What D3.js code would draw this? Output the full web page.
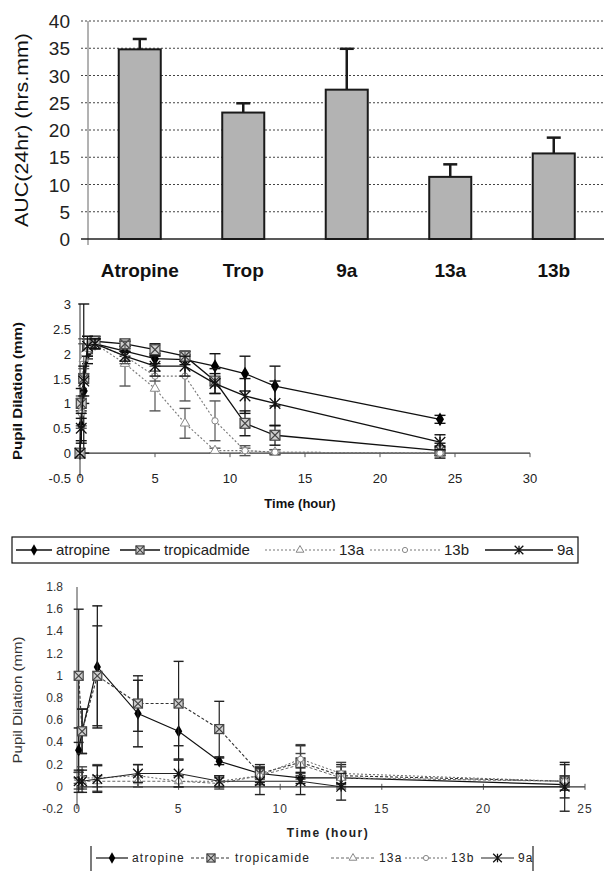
<!DOCTYPE html>
<html>
<head>
<meta charset="utf-8">
<script src="https://cdn.jsdelivr.net/npm/d3@7"></script>
<style>
  body { margin: 0; background: #fff; }
  text { font-family: Arial, "Liberation Sans", sans-serif; }
</style>
</head>
<body>
<div id="chart"></div>
<script>
// ---- bar chart data (AUC 24hr) ----
const barCategories = ["Atropine", "Trop", "9a", "13a", "13b"];
const barValues = [34.8, 23.2, 27.4, 11.4, 15.7];
const barErrors = [1.9, 1.7, 7.5, 2.3, 2.9];
const barTicks = [0, 5, 10, 15, 20, 25, 30, 35, 40];

// ---- middle chart data ----
const timesA = [0, 0.083, 0.25, 0.5, 1, 3, 5, 7, 9, 11, 13, 24];
const atropineA = [0, 0.55, 1.25, 2.0, 2.2, 2.05, 1.9, 1.88, 1.75, 1.6, 1.35, 0.68];
const atropineA_sd = [0, 0.3, 0.25, 0.2, 0.1, 0.1, 0.1, 0.1, 0.25, 0.35, 0.4, 0.08];
const tropA = [0, 1.0, 1.5, 2.1, 2.25, 2.2, 2.08, 1.95, 1.45, 0.6, 0.36, 0.05];
const tropA_sd = [0, 0.3, 1.5, 0.2, 0.1, 0.05, 0.12, 0.1, 0.25, 0.25, 0.2, 0.15];
const c13aA = [0, 0.85, 1.9, 2.1, 2.2, 1.8, 1.3, 0.6, 0.05, 0.05, 0.02, 0.0];
const c13aA_sd = [0, 0.3, 0.3, 0.2, 0.1, 0.45, 0.45, 0.3, 0.05, 0.05, 0.05, 0.05];
const c13bA = [0, 0.8, 2.0, 2.15, 2.2, 1.95, 1.55, 1.55, 0.65, 0.05, 0.02, 0.0];
const c13bA_sd = [0, 0.3, 0.3, 0.2, 0.1, 0.15, 0.1, 0.5, 0.4, 0.1, 0.05, 0.05];
const c9aA = [0, 0.5, 1.45, 2.15, 2.2, 1.95, 1.75, 1.75, 1.4, 1.15, 1.0, 0.22];
const c9aA_sd = [0, 0.3, 0.3, 0.2, 0.1, 0.1, 0.2, 0.2, 0.2, 0.35, 0.45, 0.15];
const ticksA_y = [-0.5, 0, 0.5, 1, 1.5, 2, 2.5, 3];
const ticksA_x = [0, 5, 10, 15, 20, 25, 30];

// ---- lower chart data ----
const timesB = [0.083, 0.25, 1, 3, 5, 7, 9, 11, 13, 24];
const atropineB = [0.33, 0.5, 1.08, 0.66, 0.5, 0.23, 0.12, 0.08, 0.08, 0.02];
const atropineB_sd = [0.2, 0.2, 0.55, 0.3, 0.25, 0.03, 0.05, 0.05, 0.05, 0.05];
const tropB = [1.0, 0.5, 1.0, 0.75, 0.75, 0.52, 0.12, 0.22, 0.1, 0.05];
const tropB_sd = [0.6, 0.2, 0.45, 0.25, 0.38, 0.25, 0.08, 0.15, 0.1, 0.15];
const c13aB = [0.08, 0.05, 0.05, 0.05, 0.05, 0.03, 0.1, 0.2, 0.08, 0.05];
const c13aB_sd = [0.05, 0.05, 0.05, 0.05, 0.05, 0.05, 0.08, 0.1, 0.1, 0.05];
const c13bB = [0.03, 0.08, 0.08, 0.1, 0.05, 0.05, 0.1, 0.25, 0.12, 0.05];
const c13bB_sd = [0.05, 0.1, 0.12, 0.1, 0.05, 0.05, 0.08, 0.13, 0.1, 0.05];
const c9aB = [0.05, 0.05, 0.07, 0.12, 0.12, 0.05, 0.05, 0.05, 0.0, 0.0];
const c9aB_sd = [0.1, 0.1, 0.12, 0.08, 0.12, 0.05, 0.12, 0.12, 0.12, 0.22];
const ticksB_y = [-0.2, 0, 0.2, 0.4, 0.6, 0.8, 1, 1.2, 1.4, 1.6, 1.8];
const ticksB_x = [0, 5, 10, 15, 20, 25];

const fmt = v => String(+v.toFixed(1));

const svg = d3.select('#chart').append('svg').attr('width', 604).attr('height', 875);

// ================= bar chart =================
{
    const x = d3.scaleBand().domain(barCategories).range([88, 605.5]).paddingInner(0.594).paddingOuter(0.297);
    const y = d3.scaleLinear().domain([0, 40]).range([239, 21]);
    const g = svg.append('g');

    g.selectAll('.grid').data(barTicks.filter(d => d > 0)).enter().append('line')
        .attr('x1', 81).attr('x2', 604)
        .attr('y1', d => y(d)).attr('y2', d => y(d))
        .attr('stroke', '#444').attr('stroke-width', 1.2).attr('stroke-dasharray', '2,2');

    g.append('line').attr('x1', 88).attr('x2', 88).attr('y1', y(40)).attr('y2', y(0) + 6)
        .attr('stroke', '#666').attr('stroke-width', 1);
    g.append('line').attr('x1', 81).attr('x2', 604).attr('y1', y(0)).attr('y2', y(0))
        .attr('stroke', '#222').attr('stroke-width', 1.5);

    g.selectAll('.tick').data(barTicks).enter().append('text')
        .attr('x', 70).attr('y', d => y(d) + 7)
        .attr('text-anchor', 'end').style('font-size', '19px').style('fill', '#222')
        .text(d => d);

    g.selectAll('.bar').data(barValues).enter().append('rect')
        .attr('x', (d, i) => x(barCategories[i]))
        .attr('y', d => y(d))
        .attr('width', x.bandwidth())
        .attr('height', d => y(0) - y(d))
        .attr('fill', '#b3b3b3').attr('stroke', '#1a1a1a').attr('stroke-width', 2);

    barValues.forEach((v, i) => {
        const cx = x(barCategories[i]) + x.bandwidth() / 2;
        g.append('line').attr('x1', cx).attr('x2', cx).attr('y1', y(v)).attr('y2', y(v + barErrors[i]))
            .attr('stroke', '#1a1a1a').attr('stroke-width', 2.5);
        g.append('line').attr('x1', cx - 7).attr('x2', cx + 7).attr('y1', y(v + barErrors[i])).attr('y2', y(v + barErrors[i]))
            .attr('stroke', '#1a1a1a').attr('stroke-width', 2.5);
    });

    g.selectAll('.cat').data(barCategories).enter().append('text')
        .attr('x', d => x(d) + x.bandwidth() / 2).attr('y', 277)
        .attr('text-anchor', 'middle').style('font-size', '19px').style('font-weight', 'bold').style('fill', '#111')
        .text(d => d);

    g.append('text').attr('transform', 'translate(28,130) rotate(-90)')
        .attr('text-anchor', 'middle').style('font-size', '18px').style('fill', '#111')
        .attr('textLength', 194).attr('lengthAdjust', 'spacingAndGlyphs')
        .text('AUC(24hr) (hrs.mm)');
}

// ---- marker drawing shared by both line charts ----
function drawMarker(g, type, cx, cy, s) {
    if (type === 'diamond') {
        g.append('path').attr('d', d3.symbol().type(d3.symbolDiamond).size(46 * s * s)())
            .attr('transform', `translate(${cx},${cy})`).attr('fill', '#000');
    } else if (type === 'boxx') {
        const h = 4.5 * s;
        g.append('rect').attr('x', cx - h).attr('y', cy - h).attr('width', 2 * h).attr('height', 2 * h)
            .attr('fill', '#cfcfcf').attr('stroke', '#444').attr('stroke-width', 1.2);
        g.append('path').attr('d', `M${cx - h},${cy - h}L${cx + h},${cy + h}M${cx + h},${cy - h}L${cx - h},${cy + h}`)
            .attr('stroke', '#444').attr('stroke-width', 1.2);
    } else if (type === 'triangle') {
        g.append('path').attr('d', d3.symbol().type(d3.symbolTriangle).size(32 * s * s)())
            .attr('transform', `translate(${cx},${cy})`).attr('fill', '#fff').attr('stroke', '#888').attr('stroke-width', 1);
    } else if (type === 'circle') {
        g.append('path').attr('d', d3.symbol().type(d3.symbolCircle).size(26 * s * s)())
            .attr('transform', `translate(${cx},${cy})`).attr('fill', '#fff').attr('stroke', '#888').attr('stroke-width', 1);
    } else if (type === 'asterisk') {
        const h = 4.8 * s;
        g.append('path').attr('d', `M${cx - h},${cy - h}L${cx + h},${cy + h}M${cx + h},${cy - h}L${cx - h},${cy + h}M${cx},${cy - h}L${cx},${cy + h}`)
            .attr('stroke', '#111').attr('stroke-width', 1.3).attr('fill', 'none');
    }
}

function drawSeries(g, x, y, times, series, capW, ms) {
    series.forEach(s => {
        const pts = times.map((t, i) => ({ t: t, v: s.values[i], sd: s.sd[i] }));
        pts.forEach(p => {
            if (p.sd <= 0) return;
            const cx = x(p.t);
            g.append('line').attr('x1', cx).attr('x2', cx).attr('y1', y(p.v - p.sd)).attr('y2', y(p.v + p.sd))
                .attr('stroke', s.errColor).attr('stroke-width', 1.2);
            [p.v - p.sd, p.v + p.sd].forEach(e => {
                g.append('line').attr('x1', cx - capW).attr('x2', cx + capW).attr('y1', y(e)).attr('y2', y(e))
                    .attr('stroke', s.errColor).attr('stroke-width', 1.4);
            });
        });
        g.append('path').datum(pts)
            .attr('fill', 'none').attr('stroke', s.color).attr('stroke-width', s.width)
            .attr('stroke-dasharray', s.dash)
            .attr('d', d3.line().x(d => x(d.t)).y(d => y(d.v)));
        pts.forEach(p => drawMarker(g, s.marker, x(p.t), y(p.v), ms));
    });
}

function drawLegendItem(g, s, x0, cy, lineLen, label, fontSize, spacing) {
    g.append('line').attr('x1', x0).attr('x2', x0 + lineLen).attr('y1', cy).attr('y2', cy)
        .attr('stroke', s.color).attr('stroke-width', s.width).attr('stroke-dasharray', s.dash);
    drawMarker(g, s.marker, x0 + lineLen / 2, cy, 0.9);
    g.append('text').attr('x', x0 + lineLen + 4).attr('y', cy + fontSize * 0.36)
        .style('font-size', fontSize + 'px').style('letter-spacing', spacing + 'px').style('fill', '#222')
        .text(label);
}

// ================= middle chart =================
{
    const x = d3.scaleLinear().domain([0, 30]).range([80, 530]);
    const y = d3.scaleLinear().domain([-0.5, 3]).range([478, 304]);
    const g = svg.append('g');

    g.append('line').attr('x1', x(0)).attr('x2', x(0)).attr('y1', y(3)).attr('y2', y(-0.5))
        .attr('stroke', '#333').attr('stroke-width', 1);
    g.append('line').attr('x1', x(0)).attr('x2', x(30)).attr('y1', y(0)).attr('y2', y(0))
        .attr('stroke', '#333').attr('stroke-width', 1.2);
    g.selectAll('.xt').data(ticksA_x).enter().append('line')
        .attr('x1', d => x(d)).attr('x2', d => x(d)).attr('y1', y(0)).attr('y2', y(0) + 4)
        .attr('stroke', '#555').attr('stroke-width', 1);

    g.selectAll('.ylab').data(ticksA_y).enter().append('text')
        .attr('x', 71).attr('y', d => y(d) + 5)
        .attr('text-anchor', 'end').style('font-size', '13px').style('fill', '#222')
        .text(fmt);
    g.selectAll('.xlab').data(ticksA_x).enter().append('text')
        .attr('x', d => x(d)).attr('y', 483)
        .attr('text-anchor', 'middle').style('font-size', '13px').style('fill', '#222')
        .text(d => d);

    g.append('text').attr('x', 300).attr('y', 508)
        .attr('text-anchor', 'middle').style('font-size', '13px').style('font-weight', 'bold').style('fill', '#111')
        .text('Time (hour)');
    g.append('text').attr('transform', 'translate(22,391) rotate(-90)')
        .attr('text-anchor', 'middle').style('font-size', '13px').style('font-weight', 'bold').style('fill', '#111')
        .attr('textLength', 138).attr('lengthAdjust', 'spacingAndGlyphs')
        .text('Pupil Dilation (mm)');

    const seriesA = [
        { name: 'atropine', values: atropineA, sd: atropineA_sd, marker: 'diamond', color: '#111', width: 1.3, dash: null, errColor: '#111' },
        { name: 'tropicadmide', values: tropA, sd: tropA_sd, marker: 'boxx', color: '#111', width: 1.3, dash: null, errColor: '#111' },
        { name: '13a', values: c13aA, sd: c13aA_sd, marker: 'triangle', color: '#777', width: 1.1, dash: '2,2', errColor: '#555' },
        { name: '13b', values: c13bA, sd: c13bA_sd, marker: 'circle', color: '#777', width: 1.1, dash: '2,2', errColor: '#555' },
        { name: '9a', values: c9aA, sd: c9aA_sd, marker: 'asterisk', color: '#111', width: 1.3, dash: null, errColor: '#111' }
    ];
    drawSeries(g, x, y, timesA, seriesA, 5.5, 1.1);

    const lg = svg.append('g');
    lg.append('rect').attr('x', 12).attr('y', 537).attr('width', 566).attr('height', 26)
        .attr('fill', 'none').attr('stroke', '#111').attr('stroke-width', 1.2);
    const legX = [16, 120, 265, 370, 485];
    const legLen = [36, 40, 70, 70, 68];
    seriesA.forEach((s, i) => drawLegendItem(lg, s, legX[i], 550, legLen[i], s.name, 15, 0));
}

// ================= lower chart =================
{
    const x = d3.scaleLinear().domain([0, 25]).range([77, 585]);
    const y = d3.scaleLinear().domain([-0.2, 1.8]).range([809, 587]);
    const g = svg.append('g');

    g.append('line').attr('x1', x(0)).attr('x2', x(0)).attr('y1', y(1.8)).attr('y2', y(-0.2))
        .attr('stroke', '#444').attr('stroke-width', 1);
    g.append('line').attr('x1', x(0)).attr('x2', x(25)).attr('y1', y(0)).attr('y2', y(0))
        .attr('stroke', '#333').attr('stroke-width', 1.2);
    g.selectAll('.xt').data(ticksB_x).enter().append('line')
        .attr('x1', d => x(d)).attr('x2', d => x(d)).attr('y1', y(0) - 3).attr('y2', y(0) + 3)
        .attr('stroke', '#555').attr('stroke-width', 1);

    g.selectAll('.ylab').data(ticksB_y).enter().append('text')
        .attr('x', 63).attr('y', d => y(d) + 4)
        .attr('text-anchor', 'end').style('font-size', '12px').style('fill', '#333')
        .text(fmt);
    g.selectAll('.xlab').data(ticksB_x).enter().append('text')
        .attr('x', d => x(d)).attr('y', 813)
        .attr('text-anchor', 'middle').style('font-size', '12px').style('letter-spacing', '1px').style('fill', '#333')
        .text(d => d);

    g.append('text').attr('x', 328).attr('y', 837)
        .attr('text-anchor', 'middle').style('font-size', '12px').style('font-weight', 'bold')
        .style('letter-spacing', '1.5px').style('fill', '#222')
        .text('Time (hour)');
    g.append('text').attr('transform', 'translate(22,700) rotate(-90)')
        .attr('text-anchor', 'middle').style('font-size', '12px').style('fill', '#333')
        .attr('textLength', 127).attr('lengthAdjust', 'spacingAndGlyphs')
        .text('Pupil Dilation (mm)');

    const seriesB = [
        { name: 'atropine', values: atropineB, sd: atropineB_sd, marker: 'diamond', color: '#111', width: 1.2, dash: null, errColor: '#111' },
        { name: 'tropicamide', values: tropB, sd: tropB_sd, marker: 'boxx', color: '#333', width: 1.1, dash: '3,2', errColor: '#222' },
        { name: '13a', values: c13aB, sd: c13aB_sd, marker: 'triangle', color: '#666', width: 1, dash: '3,2', errColor: '#444' },
        { name: '13b', values: c13bB, sd: c13bB_sd, marker: 'circle', color: '#666', width: 1, dash: '2,2', errColor: '#444' },
        { name: '9a', values: c9aB, sd: c9aB_sd, marker: 'asterisk', color: '#222', width: 1.1, dash: null, errColor: '#222' }
    ];
    drawSeries(g, x, y, timesB, seriesB, 5, 1);

    const lg = svg.append('g');
    [91, 533].forEach(xx => lg.append('line').attr('x1', xx).attr('x2', xx).attr('y1', 846).attr('y2', 871)
        .attr('stroke', '#222').attr('stroke-width', 1.2));
    const legX = [96, 191, 331, 405, 481];
    const legLen = [32, 40, 44, 42, 33];
    seriesB.forEach((s, i) => drawLegendItem(lg, s, legX[i], 858, legLen[i], s.name, 12, 1.2));
}
</script>
</body>
</html>
